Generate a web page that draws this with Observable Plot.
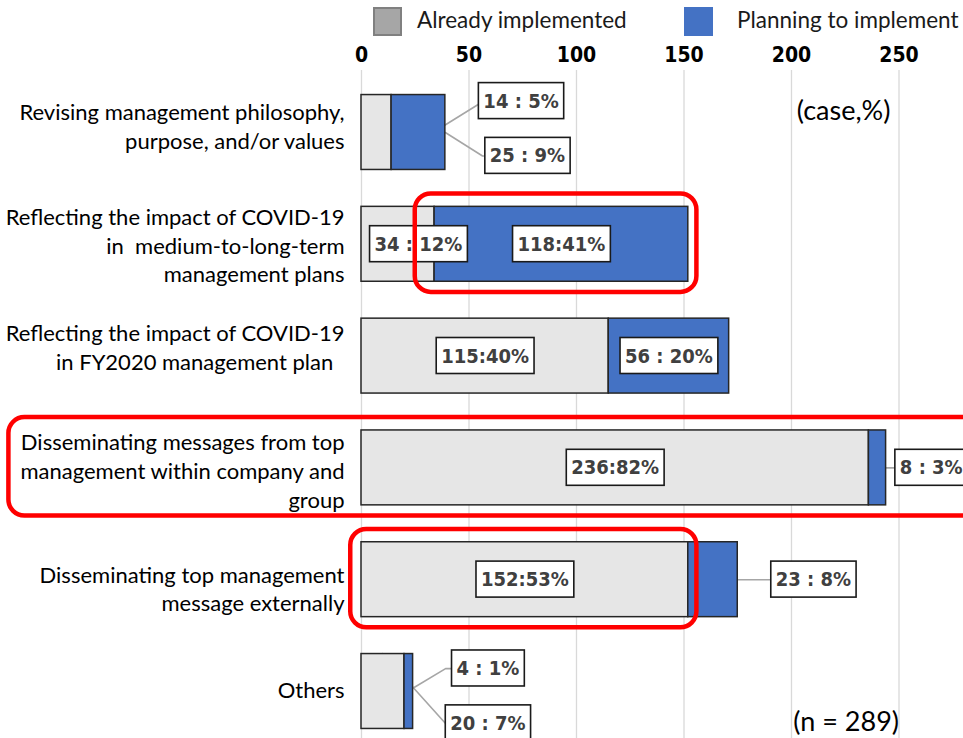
<!DOCTYPE html>
<html>
<head>
<meta charset="utf-8">
<script src="https://cdn.jsdelivr.net/npm/d3@7"></script>
<script src="https://cdn.jsdelivr.net/npm/@observablehq/plot@0.6"></script>
<style>
  html, body { margin: 0; padding: 0; background: #fff; }
  body { width: 963px; height: 738px; overflow: hidden; font-family: Lato, "Open Sans", sans-serif; }
  #legend { position: relative; height: 40px; width: 963px; }
  .sw { position: absolute; top: 7px; width: 29px; height: 29px; box-sizing: border-box; }
  .lt { position: absolute; top: 5px; font-size: 22.5px; line-height: 30px; color: #1a1a1a; white-space: nowrap; }
  #chart svg { display: block; overflow: visible; }
</style>
</head>
<body>
<div id="legend"></div>
<div id="chart"></div>
<script>
// ---------- data ----------
const categories = [
  "Revising management philosophy,\npurpose, and/or values",
  "Reflecting the impact of COVID-19\nin\u00a0 medium-to-long-term\nmanagement plans",
  "Reflecting the impact of COVID-19\nin FY2020 management plan\u00a0\u00a0",
  "Disseminating messages from top\nmanagement within company and\ngroup",
  "Disseminating top management\nmessage externally",
  "Others"
];
const seriesNames = ["Already implemented", "Planning to implement"];
const alreadyImplemented = [14, 34, 115, 236, 152, 20];
const alreadyPct = [5, 12, 40, 82, 53, 7];
const planningToImplement = [25, 118, 56, 8, 23, 4];
const planningPct = [9, 41, 20, 3, 8, 1];
const xTicks = [0, 50, 100, 150, 200, 250];
const sampleNote = "(n = 289)";
const unitNote = "(case,%)";

// ---------- styling ----------
const colors = {"Already implemented": "#e6e6e6", "Planning to implement": "#4472c4"};
const boxFont = '"DejaVu Sans Condensed", "Liberation Sans Narrow", sans-serif';
const bodyFont = 'Lato, "Open Sans", sans-serif';

// legend (HTML, above the SVG)
const legend = document.getElementById("legend");
legend.innerHTML =
  `<div class="sw" style="left:373px;background:#a6a6a6;border:2px solid #808080"></div>
   <div class="lt" style="left:417px">${seriesNames[0]}</div>
   <div class="sw" style="left:684px;background:#4472c4"></div>
   <div class="lt" style="left:737px">${seriesNames[1]}</div>`;

// ---------- table ----------
const segments = [];
categories.forEach((c, i) => {
  const a = alreadyImplemented[i], p = planningToImplement[i];
  segments.push({row: i, series: seriesNames[0], x1: 0, x2: a, value: a, pct: alreadyPct[i]});
  segments.push({row: i, series: seriesNames[1], x1: a, x2: a + p, value: p, pct: planningPct[i]});
});
const fmt = d => d.value >= 100 ? `${d.value}:${d.pct}%` : `${d.value} : ${d.pct}%`;

// label placement (annotation layout): default is centred in its segment
const place = {
  "0-0": {x: 74.2, dy: -0.28}, "0-1": {x: 77.2, dy: 0.21},
  "1-0": {x: 26.5, dy: 0},
  "3-1": {x: 265, dy: 0},
  "4-1": {x: 210.2, dy: 0},
  "5-0": {x: 58.8, dy: 0.286}, "5-1": {x: 58.8, dy: -0.205}
};
const labels = segments.map(d => {
  const k = `${d.row}-${d.series === seriesNames[0] ? 0 : 1}`;
  const p = place[k] || {x: (d.x1 + d.x2) / 2, dy: 0};
  return {text: fmt(d), x: p.x, y: d.row + p.dy};
});

// leader lines (annotation layout)
const leaders = [
  [[6.5, 0.32], [56.7, -0.28], [70, -0.28]],
  [[39, 0], [56.3, 0.21], [70, 0.21]],
  [[244, 3], [258, 3]],
  [[175, 4], [200, 4]],
  [[23.7, 4.973], [39.1, 4.795], [55, 4.795]],
  [[9.8, 4.66], [39.1, 5.286], [55, 5.286]]
].flatMap((pts, id) => pts.map(([x, y]) => ({id, x, y})));

// highlight frames
const highlights = [
  {row: 1, x1: 25, x2: 156},
  {row: 3, x1: -164, x2: 300},
  {row: 4, x1: -5, x2: 156}
];

// small vertical nudges of category labels (px)
const catNudge = [-7, 0, -10, 2, 8, -3];

const plot = Plot.plot({
  width: 963,
  height: 698,
  marginLeft: 361,
  marginRight: 0,
  marginTop: 30,
  marginBottom: 0,
  x: {domain: [0, 280], axis: null},
  y: {domain: [-0.5546, 5.4204], reverse: true, axis: null},
  style: {fontFamily: bodyFont, background: "white", overflow: "visible"},
  marks: [
    Plot.gridX(xTicks, {stroke: "#d9d9d9", strokeOpacity: 1, strokeWidth: 1.3}),
    Plot.axisX(xTicks, {anchor: "top", tickSize: 0, tickPadding: 9, label: null,
      fontSize: 21, fontWeight: "bold", fontFamily: boxFont, fill: "#000"}),
    Plot.line(leaders, {x: "x", y: "y", z: "id", stroke: "#a6a6a6", strokeWidth: 1.6, curve: "linear"}),
    Plot.rect(segments, {x1: "x1", x2: "x2", y1: d => d.row - 0.335, y2: d => d.row + 0.335,
      fill: d => colors[d.series], stroke: "#262626", strokeWidth: 1.5}),
    Plot.text(labels, {x: "x", y: "y", text: "text", fontSize: 20, fontWeight: "bold",
      fontFamily: boxFont, fill: "#404040", className: "boxlbl"}),
    Plot.text(categories, {x: 0, y: (d, i) => i + catNudge[i] / 111.8, text: d => d, textAnchor: "end",
      dx: -17, fontSize: 22, lineHeight: 1.31, fill: "#000", fontFamily: bodyFont}),
    Plot.text([unitNote], {x: 246, y: -0.19, text: d => d, textAnchor: "end", fontSize: 27,
      fontFamily: bodyFont, fill: "#000"}),
    Plot.text([sampleNote], {x: 250, y: 5.28, text: d => d, textAnchor: "end", fontSize: 27,
      fontFamily: bodyFont, fill: "#000"}),
    Plot.rect(highlights, {x1: "x1", x2: "x2", y1: d => d.row - 0.45, y2: d => d.row + 0.43,
      rx: 16, fill: "none", stroke: "#ff0000", strokeWidth: 4.5, clip: false})
  ]
});
document.getElementById("chart").appendChild(plot);

// white framed boxes behind the value labels
d3.select(plot).selectAll("g.boxlbl text").each(function () {
  const bb = this.getBBox();
  const padX = 5, padY = 6;
  d3.select(this.parentNode).insert("rect", () => this)
    .attr("transform", this.getAttribute("transform"))
    .attr("x", bb.x - padX).attr("y", bb.y - padY)
    .attr("width", bb.width + 2 * padX).attr("height", bb.height + 2 * padY)
    .attr("fill", "white").attr("stroke", "#1a1a1a").attr("stroke-width", 1.6);
});
</script>
</body>
</html>
